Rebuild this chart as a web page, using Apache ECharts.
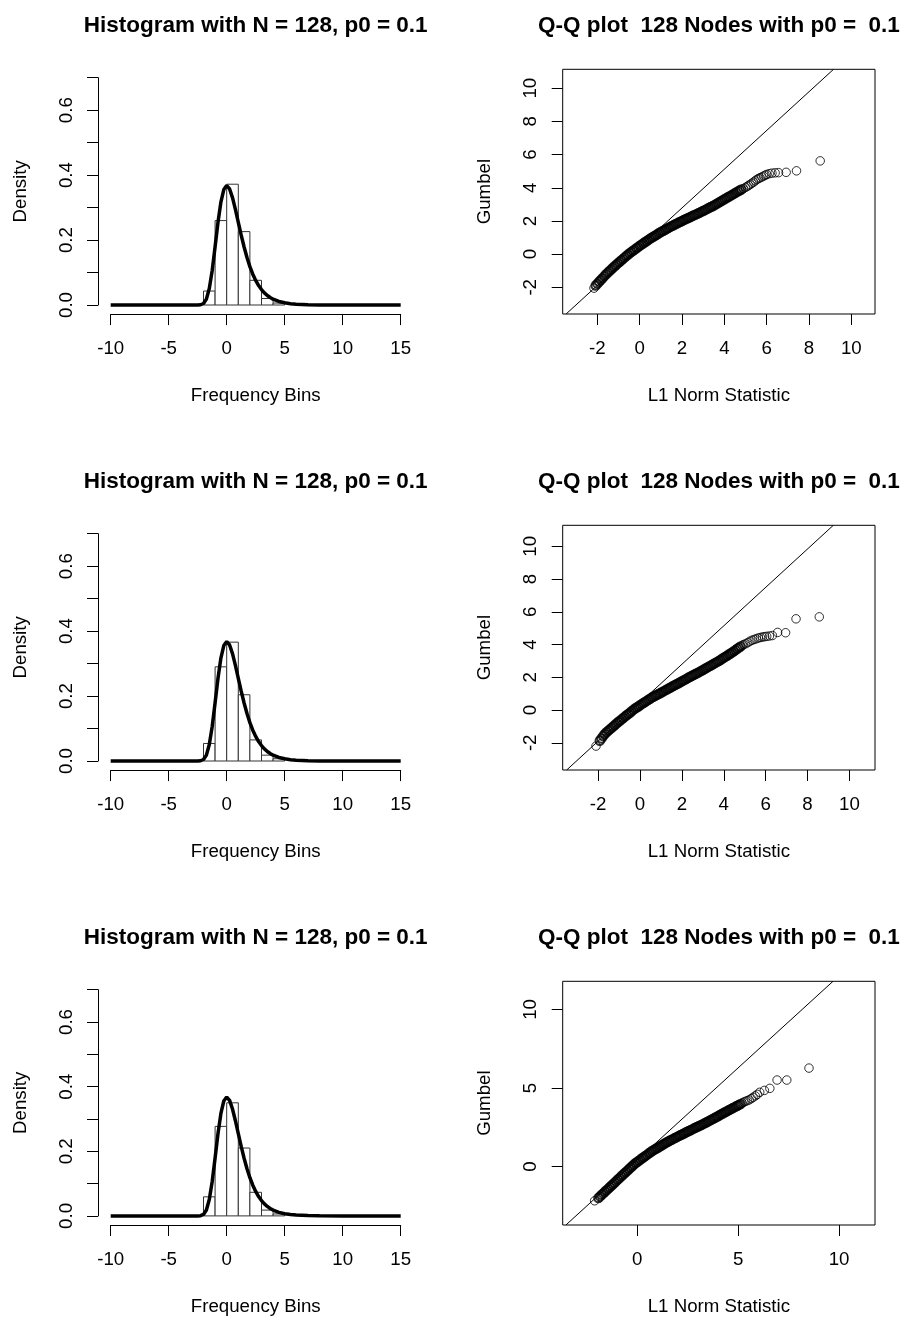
<!DOCTYPE html>
<html>
<head>
<meta charset="utf-8">
<script src="https://cdn.jsdelivr.net/npm/echarts@6/dist/echarts.min.js"></script>
<style>
  html, body { margin: 0; padding: 0; background: #fff; }
  #chart { width: 904px; height: 1317px; }
</style>
</head>
<body>
<div id="chart"></div>
<script>
// ---- data ----
const histTitle = 'Histogram with N = 128, p0 = 0.1';
const qqTitle = 'Q-Q plot  128 Nodes with p0 =  0.1';

// histogram bins (unit width) and the density of each bin, one array per run
const binEdges = [-2, -1, 0, 1, 2, 3, 4, 5];
const histDensity1 = [0.043, 0.260, 0.372, 0.226, 0.076, 0.020, 0.006];
const histDensity2 = [0.054, 0.290, 0.366, 0.204, 0.065, 0.018, 0.007];
const histDensity3 = [0.059, 0.277, 0.350, 0.210, 0.073, 0.018, 0.006];

// Gumbel density curve overlaid on every histogram
const curveX = [-10, -3, -2.75, -2.5, -2.25, -2, -1.75, -1.5, -1.25, -1, -0.75, -0.5, -0.25, 0,
  0.25, 0.5, 0.75, 1, 1.25, 1.5, 1.75, 2, 2.25, 2.5, 2.75, 3, 3.25, 3.5, 3.75, 4, 4.5, 5, 5.5, 6, 7, 8, 10, 15];
const curveY = [0, 0, 0.000003, 0.00006, 0.00072, 0.0046, 0.0182, 0.0507, 0.1064, 0.1794, 0.2549, 0.3171, 0.3556, 0.3679,
  0.3574, 0.3307, 0.2945, 0.2546, 0.2151, 0.1785, 0.1461, 0.1182, 0.0949, 0.0756, 0.0600, 0.0474, 0.0373, 0.0293, 0.0230, 0.0180,
  0.0110, 0.0067, 0.0041, 0.0025, 0.0009, 0.0003, 0.00005, 0];

// Q-Q points: (L1 norm statistic, Gumbel quantile)
// the crowded middle of each sample ...
const qqBand1 = [
  [-2.08,-1.89],[-2.00,-1.78],[-1.92,-1.67],[-1.84,-1.56],[-1.76,-1.45],[-1.68,-1.34],[-1.60,-1.23],[-1.52,-1.13],
  [-1.44,-1.03],[-1.36,-0.94],[-1.28,-0.84],[-1.20,-0.75],[-1.12,-0.66],[-1.04,-0.56],
  [-0.96,-0.48],[-0.88,-0.39],[-0.80,-0.30],[-0.72,-0.21],[-0.64,-0.12],[-0.56,-0.04],
  [-0.48,0.05],[-0.40,0.12],[-0.32,0.20],[-0.24,0.27],[-0.16,0.35],[-0.08,0.42],
  [0.00,0.50],[0.08,0.57],[0.16,0.64],[0.24,0.71],[0.32,0.78],[0.40,0.85],[0.48,0.92],
  [0.56,0.99],[0.64,1.05],[0.72,1.11],[0.80,1.17],[0.88,1.24],[0.96,1.30],
  [1.04,1.36],[1.12,1.41],[1.20,1.47],[1.28,1.53],[1.36,1.58],[1.44,1.64],
  [1.52,1.69],[1.60,1.74],[1.68,1.80],[1.76,1.85],[1.84,1.90],[1.92,1.95],[2.00,2.00],
  [2.08,2.05],[2.16,2.10],[2.24,2.14],[2.32,2.19],[2.40,2.24],[2.48,2.29],[2.56,2.34],[2.64,2.38],
  [2.72,2.43],[2.80,2.48],[2.88,2.53],[2.96,2.58],
  [3.04,2.63],[3.12,2.68],[3.20,2.73],[3.28,2.79],[3.36,2.84],[3.44,2.89],
  [3.52,2.94],[3.60,3.00],[3.68,3.06],[3.76,3.12],[3.84,3.18],[3.92,3.24],[4.00,3.30],
  [4.08,3.36],[4.16,3.42],[4.24,3.48],[4.32,3.54],[4.40,3.60],[4.48,3.66],
  [4.56,3.72],[4.64,3.78],[4.72,3.83],[4.80,3.89]
];
// ... and its thinly spread extremes
const qqTail1 = [
  [-2.16,-2.05],
  [4.90,3.95],[5.00,4.02],[5.08,4.08],[5.15,4.14],[5.22,4.20],[5.30,4.27],[5.38,4.34],[5.46,4.42],
  [5.54,4.50],[5.62,4.56],[5.69,4.60],[5.77,4.65],[5.85,4.70],[5.93,4.75],[6.00,4.80],[6.12,4.85],
  [6.25,4.88],[6.40,4.90],[6.56,4.91],[6.92,4.93],[7.41,5.02],[8.53,5.62]
];
const qqBand2 = [
  [-1.92,-1.87],[-1.84,-1.73],[-1.76,-1.59],[-1.68,-1.46],
  [-1.60,-1.36],[-1.52,-1.27],[-1.44,-1.18],[-1.36,-1.09],[-1.28,-1.00],[-1.20,-0.91],[-1.12,-0.82],[-1.04,-0.73],
  [-0.96,-0.65],[-0.88,-0.57],[-0.80,-0.48],[-0.72,-0.40],[-0.64,-0.32],[-0.56,-0.24],[-0.48,-0.16],[-0.40,-0.07],[-0.32,0.01],[-0.24,0.09],
  [-0.16,0.16],[-0.08,0.22],[0.00,0.29],[0.08,0.36],[0.16,0.43],[0.24,0.49],[0.32,0.56],[0.40,0.63],[0.48,0.69],[0.56,0.76],
  [0.64,0.81],[0.72,0.87],[0.80,0.92],[0.88,0.98],[0.96,1.03],[1.04,1.09],[1.12,1.14],[1.20,1.20],[1.28,1.25],
  [1.36,1.31],[1.44,1.36],[1.52,1.42],[1.60,1.48],[1.68,1.53],[1.76,1.59],[1.84,1.64],[1.92,1.70],[2.00,1.76],[2.08,1.81],
  [2.16,1.87],[2.24,1.92],[2.32,1.98],[2.40,2.03],[2.48,2.09],[2.56,2.14],[2.64,2.20],[2.72,2.25],[2.80,2.30],[2.88,2.36],
  [2.96,2.41],[3.04,2.47],[3.12,2.53],[3.20,2.59],[3.28,2.65],[3.36,2.70],[3.44,2.76],[3.52,2.82],[3.60,2.88],[3.68,2.94],
  [3.76,3.00],[3.84,3.06],[3.92,3.13],[4.00,3.19],[4.08,3.26],[4.16,3.32],[4.24,3.39],[4.32,3.45],
  [4.40,3.52],[4.48,3.59],[4.56,3.66],[4.64,3.74],[4.72,3.81],[4.80,3.88]
];
const qqTail2 = [
  [-2.10,-2.20],
  [4.88,3.95],[4.95,4.00],[5.05,4.05],[5.15,4.12],[5.25,4.20],[5.35,4.26],[5.45,4.31],[5.55,4.35],[5.65,4.40],
  [5.75,4.43],[5.85,4.46],[5.95,4.48],[6.05,4.50],[6.18,4.52],[6.32,4.55],[6.57,4.74],[6.95,4.72],[7.45,5.57],[8.56,5.69]
];
const qqBand3 = [
  [-1.92,-1.99],[-1.84,-1.89],[-1.76,-1.79],[-1.68,-1.70],[-1.60,-1.60],[-1.52,-1.50],[-1.44,-1.41],[-1.36,-1.31],
  [-1.28,-1.21],[-1.20,-1.12],[-1.12,-1.02],[-1.04,-0.92],[-0.96,-0.82],
  [-0.88,-0.73],[-0.80,-0.63],[-0.72,-0.53],[-0.64,-0.44],[-0.56,-0.34],[-0.48,-0.25],[-0.40,-0.15],[-0.32,-0.05],[-0.24,0.04],[-0.16,0.14],
  [-0.08,0.23],[0.00,0.30],[0.08,0.38],[0.16,0.45],[0.24,0.53],[0.32,0.60],[0.40,0.68],[0.48,0.75],[0.56,0.83],[0.64,0.90],
  [0.72,0.98],[0.80,1.04],[0.88,1.10],[0.96,1.16],[1.04,1.22],[1.12,1.28],[1.20,1.35],[1.28,1.41],[1.36,1.47],[1.44,1.53],[1.52,1.59],
  [1.60,1.65],[1.68,1.70],[1.76,1.75],[1.84,1.80],[1.92,1.85],[2.00,1.91],[2.08,1.96],[2.16,2.01],[2.24,2.06],[2.32,2.11],
  [2.40,2.17],[2.48,2.22],[2.56,2.27],[2.64,2.32],[2.72,2.37],[2.80,2.42],[2.88,2.47],[2.96,2.52],[3.04,2.57],[3.12,2.62],
  [3.20,2.67],[3.28,2.72],[3.36,2.78],[3.44,2.83],[3.52,2.88],[3.60,2.94],[3.68,2.99],[3.76,3.05],[3.84,3.10],[3.92,3.16],[4.00,3.21],
  [4.08,3.27],[4.16,3.33],[4.24,3.38],[4.32,3.44],[4.40,3.49],[4.48,3.55],[4.56,3.60],[4.64,3.66],
  [4.72,3.71],[4.80,3.77],[4.88,3.82],[4.96,3.88],[5.04,3.93],[5.12,3.99]
];
const qqTail3 = [
  [-2.11,-2.17],
  [5.20,4.05],[5.28,4.10],[5.35,4.15],[5.45,4.20],[5.55,4.25],[5.65,4.33],[5.74,4.41],[5.85,4.50],[5.95,4.60],
  [6.07,4.73],[6.30,4.85],[6.57,4.98],[6.93,5.51],[7.41,5.51],[8.51,6.27]
];

// reference line of each Q-Q plot, given by its two ends on the frame
const qqLine1 = [[-3.48, -3.61], [9.16, 11.14]];
const qqLine2 = [[-3.50, -3.66], [9.23, 11.28]];
const qqLine3 = [[-3.53, -3.71], [9.70, 11.79]];

// axis ranges [xmin, xmax, ymin, ymax] and tick values
const qqRange1 = [-3.64, 11.12, -3.61, 11.14];
const qqRange2 = [-3.69, 11.22, -3.66, 11.28];
const qqRange3 = [-3.69, 11.78, -3.71, 11.79];
const qqTicks1 = [-2, 0, 2, 4, 6, 8, 10];
const qqTicks2 = [-2, 0, 2, 4, 6, 8, 10];
const qqTicks3 = [0, 5, 10];

// ---- chart ----
const FONT = '"Liberation Sans", Arial, Helvetica, sans-serif';
const AXIS_FS = 18.7;
const TITLE_FS = 22.5;
const ROW = 456;
const INK = '#000';

const hists = [histDensity1, histDensity2, histDensity3];
const qqs = [
  { band: qqBand1, tail: qqTail1, line: qqLine1, range: qqRange1, ticks: qqTicks1 },
  { band: qqBand2, tail: qqTail2, line: qqLine2, range: qqRange2, ticks: qqTicks2 },
  { band: qqBand3, tail: qqTail3, line: qqLine3, range: qqRange3, ticks: qqTicks3 }
];

const grids = [], xAxes = [], yAxes = [], series = [], graphics = [];
const textStyle = () => ({ color: INK, fontFamily: FONT, fontSize: AXIS_FS });

function titleText(text, cx, cy) {
  return {
    type: 'text', x: cx, y: cy,
    style: { text, fill: INK, fontFamily: FONT, fontSize: TITLE_FS, fontWeight: 'bold',
             align: 'center', verticalAlign: 'middle' }
  };
}

hists.forEach((dens, r) => {
  const idx = grids.length;
  grids.push({ left: 110.7, top: 77.7 + r * ROW, width: 290, height: 227.3 });
  xAxes.push({
    gridIndex: idx, type: 'value', position: 'bottom', min: -10, max: 15, interval: 5, offset: 9.1,
    axisLine: { show: true, onZero: false, lineStyle: { color: INK, width: 1 } },
    axisTick: { show: true, length: 11, lineStyle: { color: INK, width: 1 } },
    axisLabel: Object.assign(textStyle(), { margin: 25 }),
    splitLine: { show: false },
    name: 'Frequency Bins', nameLocation: 'middle', nameGap: 72, nameTextStyle: textStyle()
  });
  yAxes.push({
    gridIndex: idx, type: 'value', position: 'left', min: 0, max: 0.7, interval: 0.1, offset: 12.7,
    axisLine: { show: true, onZero: false, lineStyle: { color: INK, width: 1 } },
    axisTick: { show: true, length: 11, lineStyle: { color: INK, width: 1 } },
    axisLabel: Object.assign(textStyle(), {
      margin: 22, rotate: 90,
      formatter: v => (Math.round(v * 10) % 2 === 0 ? v.toFixed(1) : '')
    }),
    splitLine: { show: false },
    name: 'Density', nameLocation: 'middle', nameGap: 68, nameTextStyle: textStyle()
  });
  series.push({
    type: 'custom', xAxisIndex: idx, yAxisIndex: idx, z: 2, silent: true,
    encode: { x: [0, 1], y: 2 },
    data: dens.map((h, i) => [binEdges[i], binEdges[i + 1], h]),
    renderItem: (params, api) => {
      const a = api.coord([api.value(0), api.value(2)]);
      const b = api.coord([api.value(1), 0]);
      return {
        type: 'rect',
        shape: { x: a[0], y: a[1], width: b[0] - a[0], height: b[1] - a[1] },
        style: { fill: '#fff', stroke: '#333', lineWidth: 1 }
      };
    }
  });
  series.push({
    type: 'line', xAxisIndex: idx, yAxisIndex: idx, z: 3, silent: true, clip: false,
    data: curveX.map((x, i) => [x, curveY[i]]),
    symbol: 'none', lineStyle: { color: INK, width: 3.5 }
  });
  graphics.push(titleText(histTitle, 255.7, 26 + r * ROW));
});

qqs.forEach((q, r) => {
  const idx = grids.length;
  grids.push({ left: 562.7, top: 69.3 + r * ROW, width: 312.3, height: 244.7,
               show: true, borderColor: INK, borderWidth: 1, backgroundColor: 'transparent' });
  xAxes.push({
    gridIndex: idx, type: 'value', position: 'bottom', min: q.range[0], max: q.range[1],
    axisLine: { show: false, onZero: false },
    axisTick: { show: true, length: 11, customValues: q.ticks, lineStyle: { color: INK, width: 1 } },
    axisLabel: Object.assign(textStyle(), { margin: 25, customValues: q.ticks }),
    splitLine: { show: false },
    name: 'L1 Norm Statistic', nameLocation: 'middle', nameGap: 72, nameTextStyle: textStyle()
  });
  yAxes.push({
    gridIndex: idx, type: 'value', position: 'left', min: q.range[2], max: q.range[3],
    axisLine: { show: false, onZero: false },
    axisTick: { show: true, length: 11, customValues: q.ticks, lineStyle: { color: INK, width: 1 } },
    axisLabel: Object.assign(textStyle(), { margin: 22, rotate: 90, customValues: q.ticks }),
    splitLine: { show: false },
    name: 'Gumbel', nameLocation: 'middle', nameGap: 68, nameTextStyle: textStyle()
  });
  series.push({
    type: 'line', xAxisIndex: idx, yAxisIndex: idx, z: 2, silent: true,
    data: q.line, symbol: 'none', lineStyle: { color: INK, width: 1 }
  });
  // crowded points overlap into a solid band, so their rings are drawn a little heavier
  series.push({
    type: 'scatter', xAxisIndex: idx, yAxisIndex: idx, z: 3, silent: true,
    data: q.band, symbol: 'circle', symbolSize: 8.5,
    itemStyle: { color: 'rgba(0,0,0,0)', borderColor: INK, borderWidth: 2 }
  });
  series.push({
    type: 'scatter', xAxisIndex: idx, yAxisIndex: idx, z: 3, silent: true,
    data: q.tail, symbol: 'circle', symbolSize: 8.5,
    itemStyle: { color: 'rgba(0,0,0,0)', borderColor: INK, borderWidth: 1 }
  });
  graphics.push(titleText(qqTitle, 718.9, 26 + r * ROW));
});

const chart = echarts.init(document.getElementById('chart'), null, { renderer: 'canvas' });
chart.setOption({
  animation: false,
  backgroundColor: '#fff',
  grid: grids,
  xAxis: xAxes,
  yAxis: yAxes,
  series,
  graphic: graphics
});
</script>
</body>
</html>
